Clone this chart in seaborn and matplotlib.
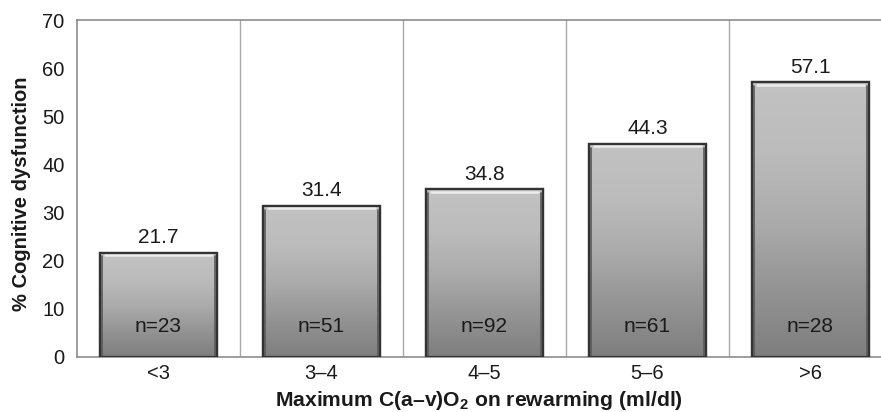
import numpy as np
import pandas as pd
import matplotlib
matplotlib.use("Agg")
import matplotlib.pyplot as plt
import seaborn as sns

# ── data ────────────────────────────────────────────────────────────────────
categories = ["<3", "3–4", "4–5", "5–6", ">6"]
pct_dysfunction = [21.7, 31.4, 34.8, 44.3, 57.1]
n_patients = [23, 51, 92, 61, 28]

sns.set_style("white")
plt.rcParams["font.family"] = ["Liberation Sans", "DejaVu Sans"]
plt.rcParams["mathtext.fontset"] = "custom"
plt.rcParams["mathtext.rm"] = "Liberation Sans"
plt.rcParams["mathtext.bf"] = "Liberation Sans:bold"

GRID = "#a8a8a8"
AXIS = "#8c8c8c"
TXT = "#1a1a1a"

df = pd.DataFrame({"cat": categories, "pct": pct_dysfunction, "n": n_patients})

fig = plt.figure(figsize=(8.81, 4.12), dpi=100)
ax = fig.add_axes([77 / 881, 55 / 412, 815 / 881, 337 / 412])

sns.barplot(data=df, x="cat", y="pct", order=categories, color="#999999",
            width=0.72, edgecolor="#333333", linewidth=1.6, ax=ax, zorder=3)

# vertical grey gradient inside each bar (light top -> darker bottom)
grad = np.linspace(0, 1, 256).reshape(-1, 1)
cmap = matplotlib.colors.LinearSegmentedColormap.from_list(
    "bar", ["#7e7e7e", "#949494", "#acacac", "#bcbcbc", "#c2c2c2"])
for p in ax.patches:
    x0, y0 = p.get_x(), p.get_y()
    w, h = p.get_width(), p.get_height()
    im = ax.imshow(grad, cmap=cmap, aspect="auto", origin="lower",
                   extent=[x0, x0 + w, y0, y0 + h], zorder=3.5,
                   interpolation="bicubic")
    im.set_clip_path(p)
    # bevel: light strip on the top edge, darker strips on the sides
    ax.plot([x0 + 0.03, x0 + w - 0.03], [y0 + h - 0.55, y0 + h - 0.55],
            color="#ececec", lw=1.8, zorder=3.8, solid_capstyle="round")
    for xs in (x0 + 0.012, x0 + w - 0.012):
        ax.plot([xs, xs], [y0, y0 + h - 0.8], color="#5a5a5a", lw=1.2,
                zorder=3.8)
    ax.add_patch(plt.Rectangle((x0, y0), w, h, fill=False,
                               edgecolor="#333333", lw=1.6, zorder=4))

for i, (v, n) in enumerate(zip(pct_dysfunction, n_patients)):
    ax.annotate(f"{v}", (i, v), xytext=(0, 4), textcoords="offset points",
                ha="center", va="bottom", fontsize=15, color=TXT)
    ax.text(i, 6.3, f"n={n}", ha="center", va="center",
            fontsize=15, color=TXT, zorder=5)

ax.set_xlim(-0.5, 4.5)
ax.set_ylim(0, 70)
ax.set_yticks(range(0, 71, 10))
ax.set_xticks(range(len(categories)))
ax.set_xticklabels(categories)
ax.set_xticks(np.arange(0.5, 4.5, 1), minor=True)
ax.tick_params(axis="x", which="major", length=0, labelsize=14.5, pad=5,
               labelcolor=TXT)
ax.tick_params(axis="x", which="minor", length=5, color=GRID, width=1,
               direction="out")
ax.tick_params(axis="y", length=6, color=AXIS, width=1, direction="out",
               labelsize=14.5, pad=3, labelcolor=TXT)
ax.xaxis.grid(True, which="minor", color=GRID, lw=1)
ax.yaxis.grid(False)

for side in ("left", "top", "bottom"):
    ax.spines[side].set_visible(True)
    ax.spines[side].set_color(AXIS)
    ax.spines[side].set_linewidth(1.2)
ax.spines["right"].set_visible(False)

ax.set_ylabel("% Cognitive dysfunction", fontsize=14.5, fontweight="bold",
              color=TXT)
ax.yaxis.set_label_coords(-46 / 815, 0.485)
ax.set_xlabel(r"Maximum C(a–v)O$_\mathbf{2}$ on rewarming (ml/dl)",
              fontsize=15.2, fontweight="bold", color=TXT)
ax.xaxis.set_label_coords(402 / 815, -(389 - 357) / 337)

fig.savefig("out.png", dpi=100)
